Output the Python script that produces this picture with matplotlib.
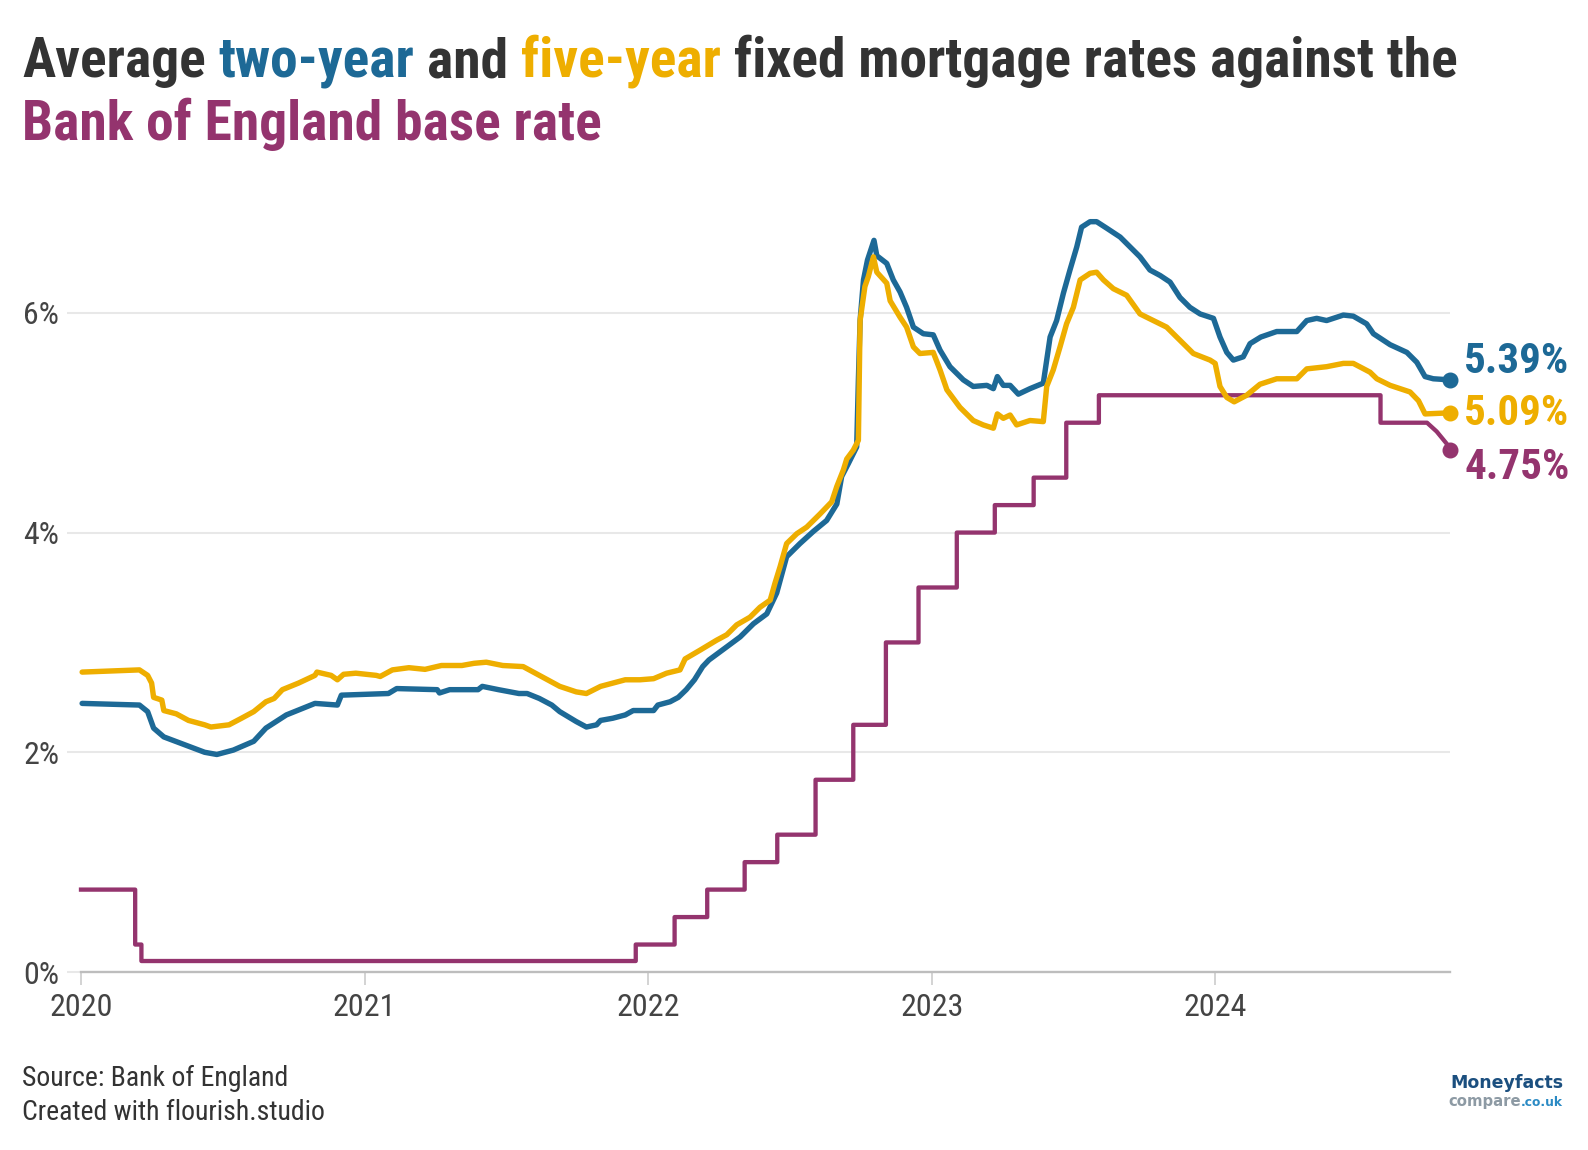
import matplotlib
matplotlib.use('Agg')
import matplotlib.pyplot as plt
from matplotlib import font_manager
import numpy as np

# Average two-year fixed rate (%) (decimal years)
two_year_t = [2020.004, 2020.206, 2020.235, 2020.256, 2020.292, 2020.364, 2020.436, 2020.479,
              2020.537, 2020.609, 2020.652, 2020.724, 2020.825, 2020.904, 2020.918, 2021.084,
              2021.113, 2021.256, 2021.264, 2021.300, 2021.400, 2021.415, 2021.472, 2021.544,
              2021.573, 2021.616, 2021.660, 2021.688, 2021.746, 2021.782, 2021.818, 2021.832,
              2021.875, 2021.919, 2021.947, 2022.019, 2022.034, 2022.077, 2022.106, 2022.134,
              2022.163, 2022.192, 2022.214, 2022.277, 2022.324, 2022.371, 2022.418, 2022.453,
              2022.488, 2022.535, 2022.582, 2022.629, 2022.665, 2022.682, 2022.706, 2022.735,
              2022.741, 2022.747, 2022.759, 2022.773, 2022.796, 2022.806, 2022.841, 2022.864,
              2022.888, 2022.911, 2022.935, 2022.970, 2023.005, 2023.029, 2023.064, 2023.111,
              2023.146, 2023.194, 2023.217, 2023.231, 2023.252, 2023.276, 2023.305, 2023.346,
              2023.393, 2023.405, 2023.417, 2023.440, 2023.464, 2023.487, 2023.511, 2023.528,
              2023.558, 2023.581, 2023.617, 2023.664, 2023.699, 2023.734, 2023.769, 2023.805,
              2023.840, 2023.875, 2023.910, 2023.946, 2023.993, 2024.016, 2024.040, 2024.063,
              2024.098, 2024.122, 2024.160, 2024.216, 2024.287, 2024.322, 2024.357, 2024.392,
              2024.451, 2024.486, 2024.533, 2024.557, 2024.616, 2024.675, 2024.710, 2024.739,
              2024.768, 2024.827]
two_year_v = [2.445, 2.43, 2.37, 2.22, 2.14, 2.07, 2.00, 1.98,
              2.02, 2.10, 2.22, 2.34, 2.445, 2.43, 2.52, 2.535,
              2.58, 2.57, 2.54, 2.57, 2.57, 2.60, 2.57, 2.535,
              2.535, 2.49, 2.43, 2.37, 2.28, 2.23, 2.25, 2.29,
              2.31, 2.34, 2.38, 2.38, 2.43, 2.46, 2.50, 2.57,
              2.66, 2.78, 2.84, 2.96, 3.05, 3.17, 3.26, 3.45,
              3.78, 3.90, 4.01, 4.11, 4.26, 4.51, 4.63, 4.78,
              5.39, 5.93, 6.30, 6.48, 6.66, 6.52, 6.45, 6.30,
              6.19, 6.05, 5.87, 5.81, 5.80, 5.66, 5.51, 5.39,
              5.33, 5.34, 5.31, 5.42, 5.34, 5.34, 5.26, 5.31,
              5.36, 5.57, 5.78, 5.93, 6.18, 6.39, 6.60, 6.78,
              6.83, 6.83, 6.77, 6.69, 6.60, 6.51, 6.39, 6.34,
              6.28, 6.14, 6.05, 5.99, 5.95, 5.78, 5.64, 5.57,
              5.60, 5.72, 5.78, 5.83, 5.83, 5.93, 5.95, 5.93,
              5.98, 5.97, 5.90, 5.81, 5.71, 5.64, 5.55, 5.42,
              5.40, 5.39]

# Average five-year fixed rate (%)
five_year_t = [2020.004, 2020.206, 2020.235, 2020.249, 2020.256, 2020.285, 2020.292, 2020.336,
               2020.379, 2020.436, 2020.458, 2020.522, 2020.566, 2020.609, 2020.652, 2020.681,
               2020.710, 2020.767, 2020.825, 2020.832, 2020.882, 2020.904, 2020.926, 2020.969,
               2021.041, 2021.055, 2021.098, 2021.156, 2021.213, 2021.271, 2021.343, 2021.386,
               2021.429, 2021.487, 2021.559, 2021.602, 2021.645, 2021.688, 2021.746, 2021.782,
               2021.832, 2021.919, 2021.971, 2022.019, 2022.065, 2022.112, 2022.130, 2022.183,
               2022.241, 2022.277, 2022.312, 2022.359, 2022.394, 2022.430, 2022.447, 2022.465,
               2022.488, 2022.524, 2022.559, 2022.606, 2022.647, 2022.665, 2022.688, 2022.700,
               2022.723, 2022.741, 2022.747, 2022.764, 2022.776, 2022.794, 2022.806, 2022.841,
               2022.853, 2022.888, 2022.911, 2022.935, 2022.958, 2023.005, 2023.029, 2023.053,
               2023.099, 2023.146, 2023.181, 2023.217, 2023.231, 2023.252, 2023.276, 2023.299,
               2023.346, 2023.393, 2023.405, 2023.428, 2023.452, 2023.475, 2023.499, 2023.523,
               2023.558, 2023.581, 2023.605, 2023.640, 2023.687, 2023.734, 2023.781, 2023.828,
               2023.875, 2023.922, 2023.981, 2023.999, 2024.016, 2024.040, 2024.066, 2024.110,
               2024.157, 2024.216, 2024.287, 2024.322, 2024.392, 2024.451, 2024.486, 2024.545,
               2024.569, 2024.616, 2024.686, 2024.716, 2024.739, 2024.827]
five_year_v = [2.73, 2.75, 2.70, 2.63, 2.50, 2.475, 2.38, 2.35,
               2.29, 2.25, 2.23, 2.25, 2.31, 2.37, 2.46, 2.49,
               2.57, 2.63, 2.70, 2.73, 2.70, 2.66, 2.71, 2.72,
               2.70, 2.69, 2.75, 2.77, 2.755, 2.79, 2.79, 2.81,
               2.82, 2.79, 2.78, 2.72, 2.66, 2.60, 2.55, 2.535,
               2.60, 2.66, 2.66, 2.67, 2.72, 2.75, 2.85, 2.93,
               3.02, 3.07, 3.16, 3.23, 3.32, 3.385, 3.54, 3.69,
               3.90, 3.99, 4.05, 4.17, 4.28, 4.42, 4.57, 4.67,
               4.75, 4.84, 5.93, 6.24, 6.33, 6.51, 6.37, 6.27,
               6.11, 5.96, 5.87, 5.69, 5.63, 5.64, 5.48, 5.30,
               5.14, 5.02, 4.98, 4.95, 5.08, 5.04, 5.07, 4.98,
               5.02, 5.01, 5.33, 5.48, 5.69, 5.90, 6.05, 6.30,
               6.36, 6.37, 6.30, 6.22, 6.16, 5.99, 5.93, 5.87,
               5.75, 5.63, 5.57, 5.54, 5.33, 5.23, 5.19, 5.25,
               5.35, 5.40, 5.40, 5.49, 5.51, 5.54, 5.54, 5.46,
               5.40, 5.34, 5.28, 5.20, 5.08, 5.09]

# Bank of England base rate: date of each change and the new rate
base_t = [2020.0, 2020.191, 2020.213, 2021.956, 2022.093, 2022.208, 2022.340, 2022.455,
          2022.590, 2022.723, 2022.838, 2022.953, 2023.088, 2023.222, 2023.359, 2023.474,
          2023.589, 2024.582, 2024.746]
base_v = [0.75, 0.25, 0.10, 0.25, 0.50, 0.75, 1.00, 1.25,
          1.75, 2.25, 3.00, 3.50, 4.00, 4.25, 4.50, 5.00,
          5.25, 5.00, 5.00]
# last (curved) stretch down to 4.75%
base_tail_t = [2024.780, 2024.815, 2024.827]
base_tail_v = [4.92, 4.81, 4.75]

years = [2020, 2021, 2022, 2023, 2024]
y_ticks = [0, 2, 4, 6]

BLUE = '#1d6996'
YELLOW = '#eeae00'
PURPLE = '#94346e'
DARK = '#333333'

names = {f.name for f in font_manager.fontManager.ttflist}
COND = 'Roboto Condensed' if 'Roboto Condensed' in names else (
    'Liberation Sans Narrow' if 'Liberation Sans Narrow' in names else 'Roboto')
plt.rcParams['font.family'] = [COND, 'DejaVu Sans']

W, H = 1588, 1150
fig = plt.figure(figsize=(W / 100, H / 100), dpi=100)
x_end = two_year_t[-1]

ax = fig.add_axes([81 / W, 1 - 972 / H, (1450 - 81) / W, (972 - 203) / H])
ax.set_xlim(2020, x_end)
ax.set_ylim(0, 7)

# base rate as a step line, then the smooth tail
bx = np.repeat(base_t, 2)[1:]
by = np.repeat(base_v, 2)[:-1]
bx = np.concatenate([bx, base_tail_t])
by = np.concatenate([by, base_tail_v])
ax.plot(bx, by, color=PURPLE, lw=3.1, solid_joinstyle='round', clip_on=False, zorder=3)
ax.plot(two_year_t, two_year_v, color=BLUE, lw=3.9, solid_joinstyle='round',
        solid_capstyle='round', clip_on=False, zorder=4)
ax.plot(five_year_t, five_year_v, color=YELLOW, lw=3.9, solid_joinstyle='round',
        solid_capstyle='round', clip_on=False, zorder=5)

# end dots and labels
ends = [(two_year_v[-1], BLUE, 18), (five_year_v[-1], YELLOW, -1), (base_tail_v[-1], PURPLE, -17)]
for v, c, dy in ends:
    ax.plot([x_end], [v], 'o', color=c, ms=10.5, clip_on=False, zorder=6)
    ax.annotate(f'{v:.2f}%', xy=(x_end, v), xytext=(14, dy), textcoords='offset pixels',
                ha='left', va='center', color=c, fontsize=31, fontweight='bold',
                annotation_clip=False)

# axes styling
for s in ['top', 'right', 'left']:
    ax.spines[s].set_visible(False)
ax.spines['bottom'].set_color('#bdbdbd')
ax.spines['bottom'].set_linewidth(1.7)
ax.set_yticks(y_ticks)
ax.set_yticklabels([f'{t}%' for t in y_ticks])
ax.set_xticks(years)
ax.set_xticklabels([str(y) for y in years])
ax.tick_params(axis='y', length=10, width=1.5, color='#e8e8e8', pad=5.8,
               labelsize=23, labelcolor='#444444')
ax.tick_params(axis='x', length=9.4, width=1.2, color='#cccccc', pad=5.5,
               labelsize=23, labelcolor='#444444')
ax.yaxis.grid(True, color='#e8e8e8', lw=1.5)
ax.set_axisbelow(True)

# title with coloured words, placed run by run
renderer = fig.canvas.get_renderer()


def text_width(s, **kw):
    t = fig.text(0, 0, s, **kw)
    w = t.get_window_extent(renderer).width
    t.remove()
    return w


def place_runs(runs, x_px, y_px, **kw):
    space = text_width('a a', **kw) - text_width('aa', **kw)
    x = x_px
    for s, c in runs:
        t = fig.text(x / W, 1 - y_px / H, s, color=c, va='baseline', ha='left', **kw)
        x += t.get_window_extent(renderer).width + space


title_kw = dict(fontsize=40, fontweight='bold')
place_runs([('Average', DARK), ('two-year', BLUE), ('and', DARK), ('five-year', YELLOW),
            ('fixed mortgage rates against the', DARK)], 22, 77, **title_kw)
place_runs([('Bank of England base rate', PURPLE)], 22, 140, **title_kw)

# footer
fig.text(22 / W, 1 - 1078 / H, 'Source: Bank of England', fontsize=20, color=DARK,
         va='center', ha='left')
fig.text(22 / W, 1 - 1113 / H, 'Created with flourish.studio', fontsize=20, color=DARK,
         va='center', ha='left')

# logo
logo_kw = dict(family='DejaVu Sans', fontweight='bold')
fig.text(1563 / W, 1 - 1088 / H, 'Moneyfacts', fontsize=12.5, color='#1b4f7f',
         ha='right', va='baseline', **logo_kw)
w_co = text_width('.co.uk', fontsize=8.8, **logo_kw)
fig.text(1563 / W, 1 - 1106 / H, '.co.uk', fontsize=8.8, color='#2a8ac4',
         ha='right', va='baseline', **logo_kw)
fig.text((1563 - w_co) / W, 1 - 1106 / H, 'compare', fontsize=10.7, color='#8d9aa4',
         ha='right', va='baseline', **logo_kw)

fig.savefig('out.png', dpi=100)
